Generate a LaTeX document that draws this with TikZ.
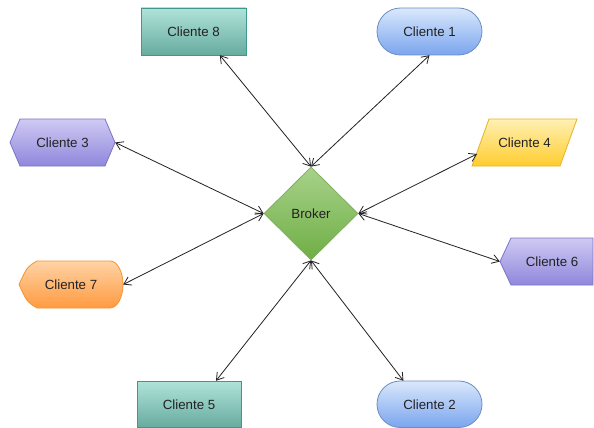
\documentclass[tikz,border=0pt]{standalone}
\usepackage{fontspec}
\setmainfont{Liberation Sans}
\usetikzlibrary{arrows.meta,shapes.geometric}
\definecolor{tealT}{HTML}{B0E3DA}\definecolor{tealB}{HTML}{67AB9F}\definecolor{tealD}{HTML}{3D9A8B}
\definecolor{blueT}{HTML}{DAE8FC}\definecolor{blueB}{HTML}{7AA5EE}\definecolor{blueD}{HTML}{6C8EBF}
\definecolor{purT}{HTML}{CFCAF3}\definecolor{purB}{HTML}{8F87DC}\definecolor{purD}{HTML}{7B74C9}
\definecolor{yelT}{HTML}{FFF0B3}\definecolor{yelB}{HTML}{FFCD2E}\definecolor{yelD}{HTML}{E6B422}
\definecolor{oraT}{HTML}{FFD3A6}\definecolor{oraB}{HTML}{FF9A40}\definecolor{oraD}{HTML}{F29633}
\definecolor{grnT}{HTML}{A7D28A}\definecolor{grnB}{HTML}{6FAE45}\definecolor{grnD}{HTML}{7FAE5F}
\definecolor{txt}{HTML}{222222}
\begin{document}
\begin{tikzpicture}[x=1pt,y=-1pt,
  lbl/.style={inner sep=0pt,minimum width=105pt,minimum height=47pt,text=txt,
    font=\fontsize{13.3}{16}\selectfont},
  tealfill/.style={top color=tealT,bottom color=tealB,draw=tealD,line width=0.8pt},
  bluefill/.style={top color=blueT,bottom color=blueB,draw=blueD,line width=0.8pt},
  purfill/.style={top color=purT,bottom color=purB,draw=purD,line width=0.8pt},
  yelfill/.style={top color=yelT,bottom color=yelB,draw=yelD,line width=0.8pt},
  orafill/.style={top color=oraT,bottom color=oraB,draw=oraD,line width=0.8pt},
  link/.style={draw=txt,line width=0.8pt,
    {Straight Barb[length=7pt,width=9pt]}-{Straight Barb[length=7pt,width=9pt]}}]
\useasboundingbox (0,0) rectangle (594,428);
\fill[white] (0,0) rectangle (594,428);
% shapes
\path[tealfill] (141,8) rectangle (246,55);
\path[bluefill,rounded corners=23.5pt] (377,8) rectangle (482,55);
\path[purfill] (10,142.5) -- (20,119) -- (105,119) -- (115,142.5) -- (105,166) -- (20,166) -- cycle;
\path[yelfill] (472,166) -- (489,119) -- (577,119) -- (560,166) -- cycle;
\path[purfill] (500,261.5) -- (511,238) -- (593,238) -- (593,285) -- (511,285) -- cycle;
\path[orafill] (19,284.5) .. controls (27,267) .. (37,261) -- (110,261)
   arc[start angle=-90,end angle=90,x radius=13,y radius=23.5] -- (37,308)
   .. controls (27,302) .. (19,284.5) -- cycle;
\path[tealfill] (137,381) rectangle (241,427.5);
\path[bluefill,rounded corners=23.2pt] (377,381) rectangle (482,427.5);
% nodes
\node[diamond,inner sep=0pt,minimum width=94pt,minimum height=93pt,
  top color=grnT,bottom color=grnB,draw=grnD,line width=0.8pt,text=txt,
  font=\fontsize{13.3}{16}\selectfont] (broker) at (311,213.5) {Broker};
\node[lbl] (c8) at (193.5,31.5) {Cliente 8};
\node[lbl] (c1) at (429.5,31.5) {Cliente 1};
\node[lbl] (c3) at (62.5,142.5) {Cliente 3};
\node[lbl] (c4) at (524.5,142.5) {Cliente 4};
\node[lbl,minimum width=104pt] (c6) at (552,261.5) {Cliente 6};
\node[lbl,minimum width=104pt] (c7) at (71,284.5) {Cliente 7};
\node[lbl,minimum width=104pt,minimum height=46.5pt] (c5) at (189,404.25) {Cliente 5};
\node[lbl,minimum height=46.5pt] (c2) at (429.5,404.25) {Cliente 2};
\coordinate (c4in) at (477,154);
% connectors
\draw[link] (broker.north) -- (c8.-42.7);
\draw[link] (broker.north) -- (c1.south);
\draw[link] (broker.west) -- (c3.east);
\draw[link] (broker.west) -- (c7.east);
\draw[link] (broker.east) -- (c4in);
\draw[link] (broker.east) -- (c6.west);
\draw[link] (broker.south) -- (c5.41.8);
\draw[link] (broker.south) -- (c2.138.7);
\end{tikzpicture}
\end{document}
